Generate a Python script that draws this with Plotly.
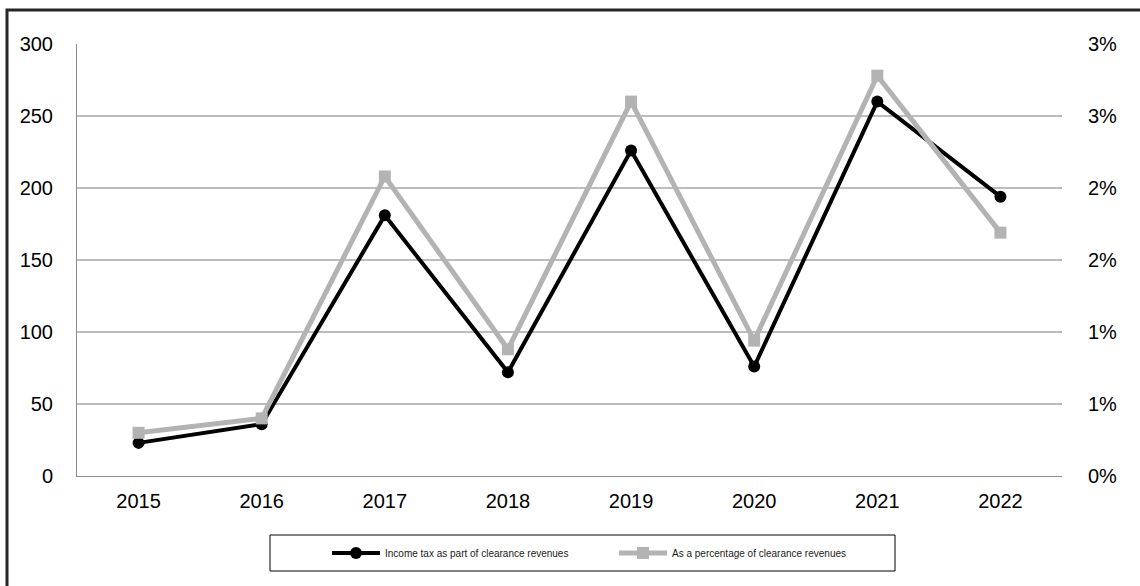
import plotly.graph_objects as go

years = ["2015", "2016", "2017", "2018", "2019", "2020", "2021", "2022"]
income_tax = [23, 36, 181, 72, 226, 76, 260, 194]
pct_of_clearance = [0.0030, 0.0040, 0.0208, 0.0088, 0.0260, 0.0094, 0.0278, 0.0169]
left_ticks = [0, 50, 100, 150, 200, 250, 300]
right_tickvals = [0, 0.005, 0.010, 0.015, 0.020, 0.025, 0.030]
right_ticktext = ["0%", "1%", "1%", "2%", "2%", "3%", "3%"]
name_income = "Income tax as part of clearance revenues"
name_pct = "As a percentage of clearance revenues"

W, H = 1140, 586
L, R, T, B = 77, 1062, 44, 476
pw, ph = R - L, B - T


def px(x):
    return (x - L) / pw


def py(y):
    return (B - y) / ph


fig = go.Figure()
fig.add_trace(go.Scatter(
    x=years, y=income_tax, name=name_income, mode="lines+markers",
    line=dict(color="#000000", width=4),
    marker=dict(symbol="circle", size=12, color="#000000"),
    yaxis="y",
))
fig.add_trace(go.Scatter(
    x=years, y=pct_of_clearance, name=name_pct, mode="lines+markers",
    line=dict(color="#b3b3b3", width=5),
    marker=dict(symbol="square", size=12, color="#b3b3b3"),
    yaxis="y2",
))

font_family = "Liberation Sans, Arial, sans-serif"
tick_size = 20

fig.update_layout(
    width=W, height=H,
    margin=dict(l=L, r=W - R, t=T, b=H - B, pad=0),
    paper_bgcolor="#ffffff",
    plot_bgcolor="rgba(0,0,0,0)",
    font=dict(family=font_family, color="#000000", size=tick_size),
    xaxis=dict(
        type="category", range=[-0.5, 7.5],
        showgrid=False, showline=True, linecolor="#8c8c8c", linewidth=1,
        ticks="", tickfont=dict(size=tick_size), ticklabelstandoff=7,
        zeroline=False,
    ),
    yaxis=dict(
        range=[0, 300], tickvals=left_ticks,
        showgrid=True, gridcolor="#bdbdbd", gridwidth=1.5,
        showline=True, linecolor="#8c8c8c", linewidth=1,
        zeroline=False, ticks="", tickfont=dict(size=tick_size),
        ticklabelstandoff=19,
    ),
    yaxis2=dict(
        range=[0, 0.03], overlaying="y", side="right",
        tickvals=right_tickvals, ticktext=right_ticktext,
        showgrid=False, showline=False, zeroline=False, ticks="",
        tickfont=dict(size=tick_size), ticklabelstandoff=25,
    ),
    showlegend=True,
    legend=dict(
        orientation="h", xref="paper", yref="paper",
        x=px(327), xanchor="left", y=py(553), yanchor="middle",
        bgcolor="rgba(0,0,0,0)", borderwidth=0,
        font=dict(size=10, family=font_family, color="#1a1a1a"),
        itemwidth=48, entrywidth=224, entrywidthmode="pixels",
        itemclick=False,
    ),
    shapes=[
        dict(type="rect", xref="paper", yref="paper",
             x0=px(7), x1=px(1145), y0=py(10), y1=py(595),
             line=dict(color="#262626", width=3), fillcolor="rgba(0,0,0,0)",
             layer="below"),
        dict(type="rect", xref="paper", yref="paper",
             x0=px(270), x1=px(895), y0=py(535), y1=py(571),
             line=dict(color="#000000", width=1), fillcolor="#ffffff",
             layer="below"),
    ],
)

fig.write_html("out.html", config={"displayModeBar": False})
